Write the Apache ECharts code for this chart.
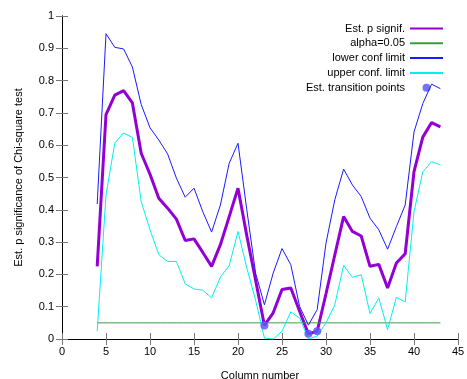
<!DOCTYPE html>
<html>
<head>
<meta charset="utf-8">
<script src="https://cdn.jsdelivr.net/npm/echarts@6/dist/echarts.min.js"></script>
<style>
html,body{margin:0;padding:0;background:#fff;}
#c{width:467px;height:379px;}
</style>
</head>
<body>
<div id="c"></div>
<script>
const columns = [4,5,6,7,8,9,10,11,12,13,14,15,16,17,18,19,20,21,22,23,24,25,26,27,28,29,30,31,32,33,34,35,36,37,38,39,40,41,42,43];
const pSignif = [0.225,0.695,0.755,0.769,0.731,0.575,0.510,0.436,0.405,0.371,0.305,0.310,0.268,0.225,0.292,0.379,0.467,0.320,0.182,0.042,0.081,0.153,0.158,0.086,0.016,0.024,0.140,0.260,0.379,0.333,0.319,0.225,0.231,0.158,0.235,0.264,0.518,0.625,0.670,0.657];
const lowerConf = [0.418,0.945,0.903,0.898,0.842,0.726,0.654,0.616,0.573,0.498,0.439,0.467,0.394,0.331,0.415,0.544,0.606,0.400,0.204,0.106,0.204,0.280,0.230,0.101,0.043,0.091,0.297,0.431,0.526,0.477,0.441,0.374,0.338,0.278,0.348,0.415,0.641,0.729,0.789,0.775];
const upperConf = [0.024,0.446,0.607,0.638,0.624,0.425,0.338,0.261,0.240,0.240,0.171,0.155,0.151,0.127,0.192,0.227,0.333,0.220,0.120,0.003,0.000,0.024,0.084,0.065,0.000,0.009,0.050,0.106,0.228,0.191,0.199,0.079,0.127,0.029,0.129,0.115,0.394,0.518,0.549,0.539];
const alphaLevel = 0.05;
const transitionCols = [23, 28, 29];
const transitionVals = [0.042, 0.016, 0.024];
const seriesNames = ['Est. p signif.', 'alpha=0.05', 'lower conf limit', 'upper conf. limit', 'Est. transition points'];

const pair = (xs, ys) => xs.map((x, i) => [x, ys[i]]);
const font = 'Liberation Sans, Arial, sans-serif';

const chart = echarts.init(document.getElementById('c'), null, {renderer: 'canvas'});
const axisCommon = {
  axisLine: {show: true, lineStyle: {color: '#000', width: 1}},
  axisTick: {show: true, inside: true, length: 6, lineStyle: {color: '#777'}},
  splitLine: {show: false},
};
chart.setOption({
  animation: false,
  backgroundColor: '#fff',
  grid: {left: 62, right: 9, top: 16, bottom: 40, outerBoundsMode: 'none', containLabel: false},
  legend: {
    orient: 'vertical',
    align: 'right',
    right: 18,
    top: 18,
    itemWidth: 33,
    itemHeight: 8,
    itemGap: 3.8,
    textStyle: {fontFamily: font, fontSize: 11, color: '#000'},
    itemStyle: {opacity: 0},
    data: [
      {name: seriesNames[0]},
      {name: seriesNames[1]},
      {name: seriesNames[2]},
      {name: seriesNames[3]},
      {name: seriesNames[4], icon: 'circle', itemStyle: {opacity: 0.85}}
    ]
  },
  xAxis: [
    Object.assign({}, axisCommon, {
      type: 'value', min: 0, max: 45, interval: 5, position: 'bottom',
      name: 'Column number', nameLocation: 'middle', nameGap: 31,
      nameTextStyle: {fontFamily: font, fontSize: 11, color: '#000'},
      axisLabel: {fontFamily: font, fontSize: 11, color: '#000', margin: 7}
    }),
    Object.assign({}, axisCommon, {
      type: 'value', min: 0, max: 45, interval: 5, position: 'top',
      axisLabel: {show: false}
    })
  ],
  yAxis: [
    Object.assign({}, axisCommon, {
      type: 'value', min: 0, max: 1, interval: 0.1, position: 'left',
      name: 'Est. p significance of Chi-square test', nameLocation: 'middle', nameGap: 38,
      nameTextStyle: {fontFamily: font, fontSize: 11, color: '#000'},
      axisLabel: {fontFamily: font, fontSize: 11, color: '#000', margin: 8}
    }),
    Object.assign({}, axisCommon, {
      type: 'value', min: 0, max: 1, interval: 0.1, position: 'right',
      axisLabel: {show: false}
    })
  ],
  series: [
    {
      name: seriesNames[0], type: 'line', data: pair(columns, pSignif),
      symbol: 'none', lineStyle: {color: '#9400d3', width: 3}, itemStyle: {color: '#9400d3'}, z: 2
    },
    {
      name: seriesNames[1], type: 'line', data: columns.map(c => [c, alphaLevel]),
      symbol: 'none', lineStyle: {color: '#3f9a3f', width: 1}, itemStyle: {color: '#3f9a3f'}, z: 3
    },
    {
      name: seriesNames[2], type: 'line', data: pair(columns, lowerConf),
      symbol: 'none', lineStyle: {color: '#1a1aff', width: 1}, itemStyle: {color: '#1a1aff'}, z: 4
    },
    {
      name: seriesNames[3], type: 'line', data: pair(columns, upperConf),
      symbol: 'none', lineStyle: {color: '#00f0f0', width: 1}, itemStyle: {color: '#00f0f0'}, z: 5
    },
    {
      name: seriesNames[4], type: 'scatter', data: pair(transitionCols, transitionVals),
      symbol: 'circle', symbolSize: 8, itemStyle: {color: '#5a5aff', opacity: 0.85}, z: 6
    }
  ]
});
</script>
</body>
</html>
